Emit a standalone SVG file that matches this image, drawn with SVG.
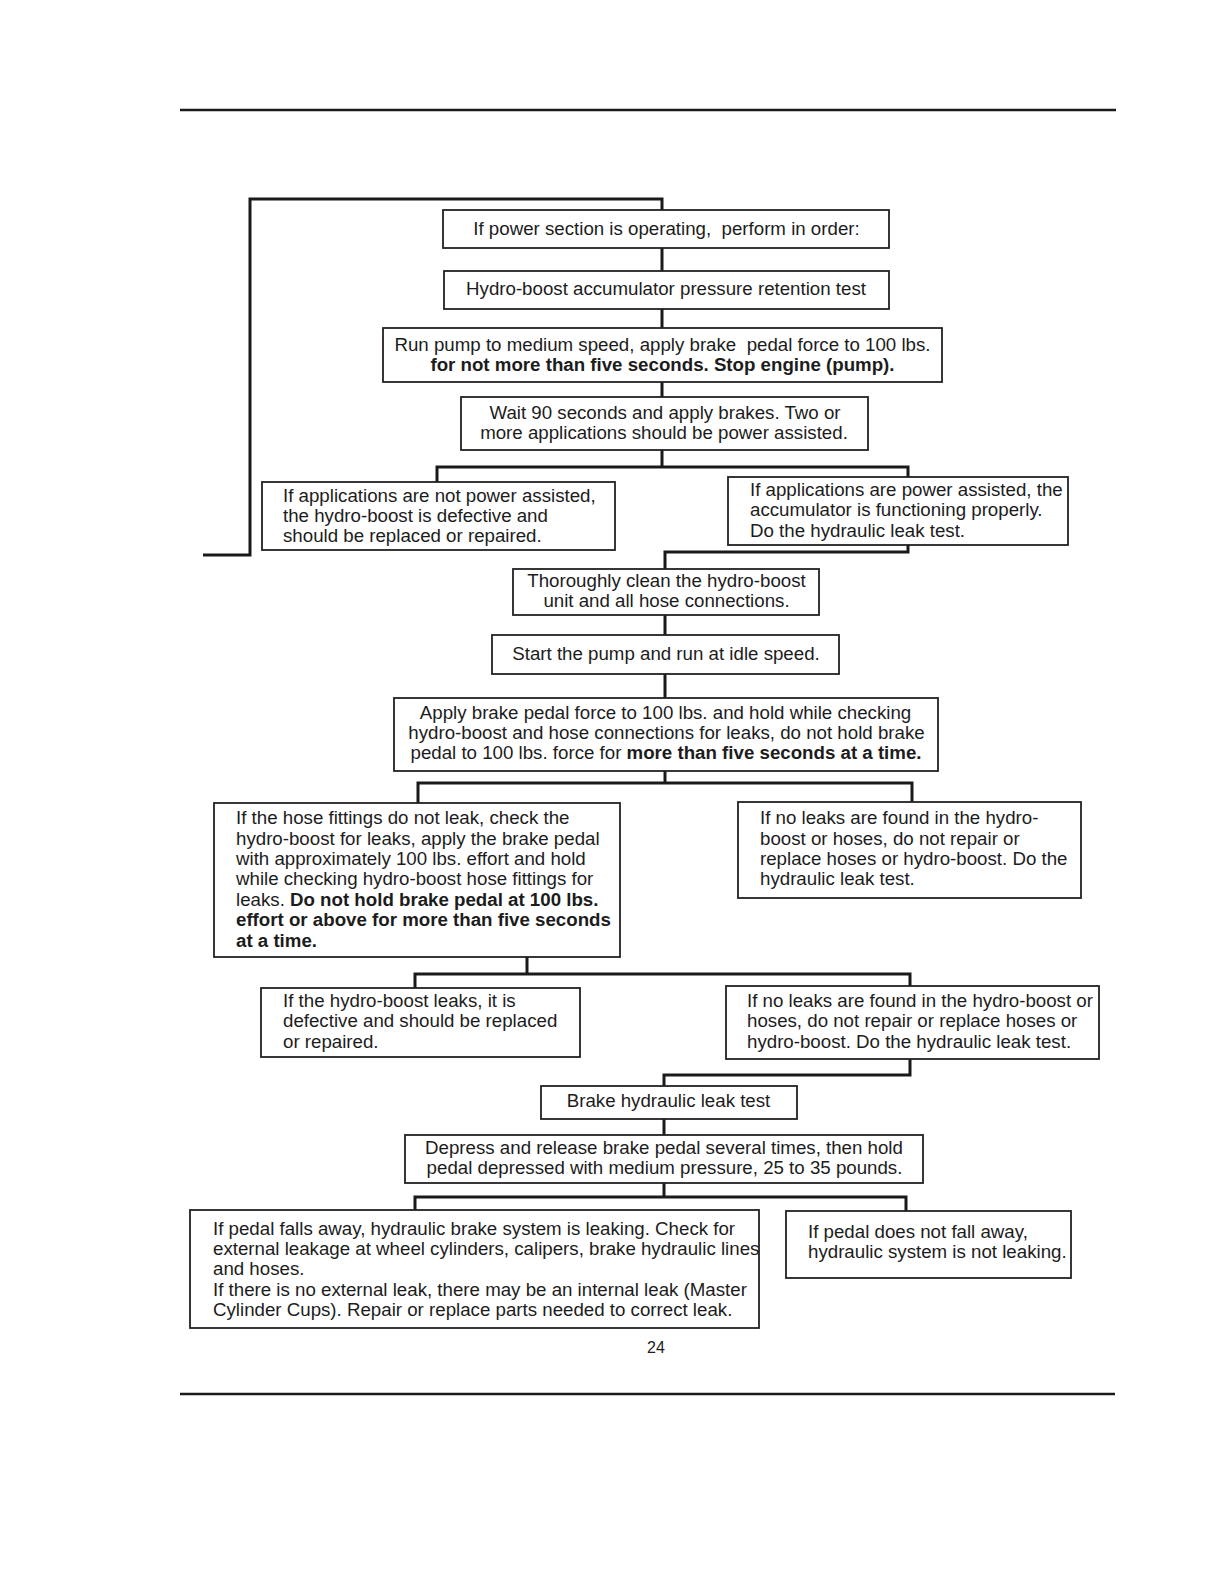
<svg xmlns="http://www.w3.org/2000/svg" width="1224" height="1584" viewBox="0 0 1224 1584">
<style>
text{font-family:"Liberation Sans",Arial,sans-serif;font-size:18.7px;fill:#1c1c1c}
.c{text-anchor:middle}
.b{font-weight:bold}
.pre{white-space:pre}
.box{fill:#fff;stroke:#222;stroke-width:1.8}
.con{fill:none;stroke:#1a1a1a;stroke-width:3;stroke-linejoin:miter;stroke-linecap:butt}
.rule{stroke:#1a1a1a;stroke-width:2.5}
</style>
<rect width="1224" height="1584" fill="#fff"/>
<line class="rule" x1="180" y1="110" x2="1116" y2="110"/>
<line class="rule" x1="180" y1="1394" x2="1115" y2="1394"/>
<text x="656" y="1353" class="c" style="font-size:16px">24</text>

<g id="connectors">
<polyline class="con" points="203,555 250,555 250,199 662,199 662,210"/>
<line class="con" x1="662" y1="248" x2="662" y2="271"/>
<line class="con" x1="662" y1="309" x2="662" y2="328"/>
<line class="con" x1="662" y1="382" x2="662" y2="397"/>
<line class="con" x1="662" y1="450" x2="662" y2="467"/>
<polyline class="con" points="437,483 437,467 908,467 908,477"/>
<polyline class="con" points="908,545 908,552 665,552 665,569"/>
<line class="con" x1="665" y1="615" x2="665" y2="635"/>
<line class="con" x1="665" y1="674" x2="665" y2="698"/>
<line class="con" x1="665" y1="771" x2="665" y2="783"/>
<polyline class="con" points="418,803 418,783 912,783 912,802"/>
<line class="con" x1="527" y1="957" x2="527" y2="974"/>
<polyline class="con" points="415,988 415,974 910,974 910,986"/>
<polyline class="con" points="910,1059 910,1075 664,1075 664,1086"/>
<line class="con" x1="664" y1="1119" x2="664" y2="1135"/>
<line class="con" x1="664" y1="1183" x2="664" y2="1197"/>
<polyline class="con" points="415,1210 415,1197 906,1197 906,1211"/>
</g>

<g id="n1">
<rect class="box" x="443" y="210" width="446" height="38"/>
<text x="666.5" y="235" class="c pre">If power section is operating,  perform in order:</text>
</g>
<g id="n2">
<rect class="box" x="444" y="271" width="445" height="38"/>
<text x="666" y="295" class="c">Hydro-boost accumulator pressure retention test</text>
</g>
<g id="n3">
<rect class="box" x="383" y="328" width="559" height="54"/>
<text x="662.5" y="351" class="c pre">Run pump to medium speed, apply brake  pedal force to 100 lbs.</text>
<text x="662.5" y="371" class="c b">for not more than five seconds. Stop engine (pump).</text>
</g>
<g id="n4">
<rect class="box" x="461" y="397" width="407" height="53"/>
<text x="665" y="419" class="c">Wait 90 seconds and apply brakes. Two or</text>
<text x="664" y="439" class="c">more applications should be power assisted.</text>
</g>
<g id="n5">
<rect class="box" x="262" y="482" width="353" height="68"/>
<text x="283" y="502">If applications are not power assisted,</text>
<text x="283" y="522">the hydro-boost is defective and</text>
<text x="283" y="542">should be replaced or repaired.</text>
</g>
<g id="n6">
<rect class="box" x="728" y="477" width="340" height="68"/>
<text x="750" y="496">If applications are power assisted, the</text>
<text x="750" y="516">accumulator is functioning properly.</text>
<text x="750" y="537">Do the hydraulic leak test.</text>
</g>
<g id="n7">
<rect class="box" x="513" y="569" width="306" height="46"/>
<text x="666.5" y="587" class="c">Thoroughly clean the hydro-boost</text>
<text x="666.5" y="607" class="c">unit and all hose connections.</text>
</g>
<g id="n8">
<rect class="box" x="492" y="635" width="347" height="39"/>
<text x="666" y="660" class="c">Start the pump and run at idle speed.</text>
</g>
<g id="n9">
<rect class="box" x="394" y="698" width="544" height="73"/>
<text x="665.5" y="719" class="c">Apply brake pedal force to 100 lbs. and hold while checking</text>
<text x="666.5" y="739" class="c">hydro-boost and hose connections for leaks, do not hold brake</text>
<text x="666" y="759" class="c">pedal to 100 lbs. force for <tspan class="b">more than five seconds at a time.</tspan></text>
</g>
<g id="n10">
<rect class="box" x="214" y="803" width="406" height="154"/>
<text x="236" y="824">If the hose fittings do not leak, check the</text>
<text x="236" y="845">hydro-boost for leaks, apply the brake pedal</text>
<text x="236" y="865">with approximately 100 lbs. effort and hold</text>
<text x="236" y="885">while checking hydro-boost hose fittings for</text>
<text x="236" y="906">leaks. <tspan class="b">Do not hold brake pedal at 100 lbs.</tspan></text>
<text x="236" y="926" class="b">effort or above for more than five seconds</text>
<text x="236" y="947" class="b">at a time.</text>
</g>
<g id="n11">
<rect class="box" x="738" y="802" width="343" height="96"/>
<text x="760" y="824">If no leaks are found in the hydro-</text>
<text x="760" y="845">boost or hoses, do not repair or</text>
<text x="760" y="865">replace hoses or hydro-boost. Do the</text>
<text x="760" y="885">hydraulic leak test.</text>
</g>
<g id="n12">
<rect class="box" x="261" y="988" width="319" height="69"/>
<text x="283" y="1007">If the hydro-boost leaks, it is</text>
<text x="283" y="1027">defective and should be replaced</text>
<text x="283" y="1048">or repaired.</text>
</g>
<g id="n13">
<rect class="box" x="726" y="986" width="373" height="73"/>
<text x="747" y="1007">If no leaks are found in the hydro-boost or</text>
<text x="747" y="1027">hoses, do not repair or replace hoses or</text>
<text x="747" y="1048">hydro-boost. Do the hydraulic leak test.</text>
</g>
<g id="n14">
<rect class="box" x="541" y="1086" width="256" height="33"/>
<text x="668.5" y="1107" class="c">Brake hydraulic leak test</text>
</g>
<g id="n15">
<rect class="box" x="405" y="1135" width="518" height="48"/>
<text x="664" y="1154" class="c">Depress and release brake pedal several times, then hold</text>
<text x="664.5" y="1174" class="c">pedal depressed with medium pressure, 25 to 35 pounds.</text>
</g>
<g id="n16">
<rect class="box" x="190" y="1210" width="569" height="118"/>
<text x="213" y="1235">If pedal falls away, hydraulic brake system is leaking. Check for</text>
<text x="213" y="1255">external leakage at wheel cylinders, calipers, brake hydraulic lines</text>
<text x="213" y="1275">and hoses.</text>
<text x="213" y="1296">If there is no external leak, there may be an internal leak (Master</text>
<text x="213" y="1316">Cylinder Cups). Repair or replace parts needed to correct leak.</text>
</g>
<g id="n17">
<rect class="box" x="786" y="1211" width="285" height="67"/>
<text x="808" y="1238">If pedal does not fall away,</text>
<text x="808" y="1258">hydraulic system is not leaking.</text>
</g>
</svg>
